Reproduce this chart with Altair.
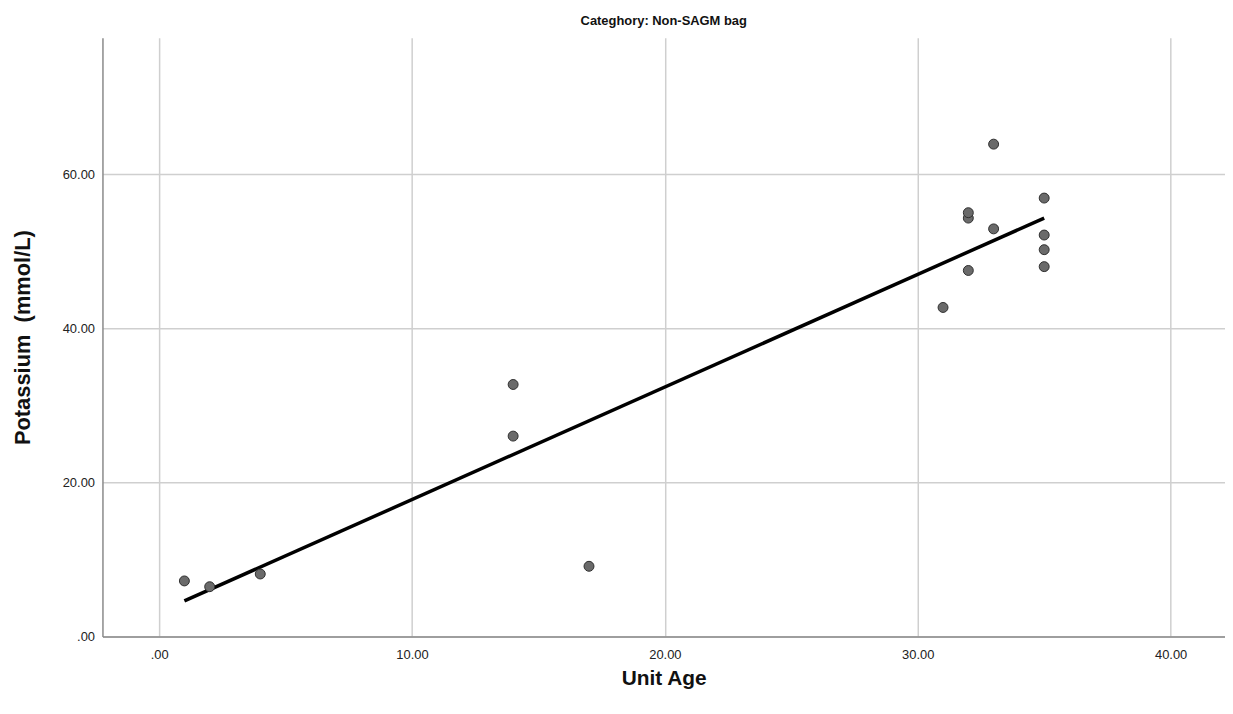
import altair as alt
import pandas as pd

unit_age = [1, 2, 4, 14, 14, 17, 31, 32, 32, 32, 33, 33, 35, 35, 35, 35]
potassium = [7.2, 6.45, 8.1, 32.7, 26.0, 9.1, 42.7, 47.5, 54.3, 55.0, 52.9, 63.9, 56.9, 52.1, 50.2, 48.0]
x_ticks = [0, 10, 20, 30, 40]
y_ticks = [0, 20, 40, 60]

df = pd.DataFrame({"age": unit_age, "k": potassium})

FONT = "Liberation Sans"
label_expr = "datum.value == 0 ? '.00' : format(datum.value, '.2f')"

x_enc = alt.X("age:Q", title="Unit Age",
              scale=alt.Scale(domain=[-2.24, 42.15], nice=False, zero=False),
              axis=alt.Axis(values=x_ticks, labelExpr=label_expr, ticks=False,
                            grid=True, gridColor="#cfcfcf", gridWidth=1.5,
                            domainColor="#8a8a8a", domainWidth=1.5,
                            labelFont=FONT, labelFontSize=13, labelColor="#222",
                            labelPadding=12,
                            titleFont=FONT, titleFontSize=21, titleFontWeight="bold",
                            titleColor="#111", titlePadding=6))
y_enc = alt.Y("k:Q", title="Potassium\u00a0\u00a0(mmol/L)",
              scale=alt.Scale(domain=[0, 77.7], nice=False, zero=False),
              axis=alt.Axis(values=y_ticks, labelExpr=label_expr, ticks=False,
                            grid=True, gridColor="#cfcfcf", gridWidth=1.5,
                            domainColor="#8a8a8a", domainWidth=1.5,
                            labelFont=FONT, labelFontSize=13, labelColor="#222",
                            labelPadding=8,
                            titleFont=FONT, titleFontSize=22, titleFontWeight="bold",
                            titleColor="#111", titlePadding=28))

points = alt.Chart(df).mark_point(filled=True, size=100, fill="#6a6a6a",
                                  stroke="#2e2e2e", strokeWidth=1, opacity=1).encode(
    x=x_enc, y=y_enc)

line = alt.Chart(df).transform_regression("age", "k").mark_line(
    color="#000000", strokeWidth=3.5).encode(x="age:Q", y="k:Q")

chart = alt.layer(line, points).properties(
    width=1129, height=602,
    title=alt.TitleParams("Categhory: Non-SAGM bag", font=FONT, fontSize=13,
                          fontWeight="bold", color="#111", anchor="middle", offset=10),
    autosize=alt.AutoSizeParams(type="none"),
    padding={"left": 95, "top": 28, "right": 0, "bottom": 68},
).configure_view(stroke=None)

chart.save("out.html", embed_options={"renderer": "svg", "actions": False})
